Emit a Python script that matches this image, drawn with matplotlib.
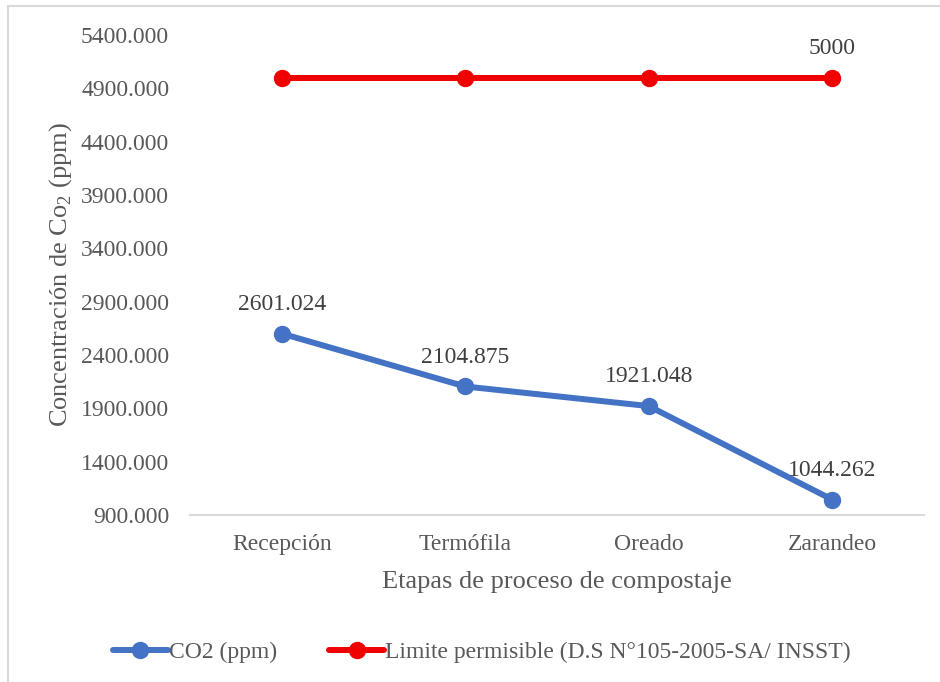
import matplotlib
matplotlib.use("Agg")
import matplotlib.pyplot as plt
from matplotlib.patches import Rectangle

# Datos
etapas = ["Recepción", "Termófila", "Oreado", "Zarandeo"]
co2_ppm = [2601.024, 2104.875, 1921.048, 1044.262]
limite = [5000, 5000, 5000, 5000]
yticks = [900, 1400, 1900, 2400, 2900, 3400, 3900, 4400, 4900, 5400]

azul = "#4472C4"
rojo = "#F00000"
gris_texto = "#595959"

plt.rcParams["font.family"] = ["Liberation Serif", "DejaVu Serif"]
plt.rcParams["mathtext.fontset"] = "custom"
plt.rcParams["mathtext.rm"] = "Liberation Serif"


def run_plot():

    fig = plt.figure(figsize=(9.4, 6.82), dpi=100)
    ax = fig.add_axes([190 / 940, 1 - 515 / 682, 734 / 940, 480 / 682])

    x = range(len(etapas))

    ax.plot(x, co2_ppm, color=azul, lw=4.3, marker="o", ms=11.5,
            label="CO2 (ppm)", solid_capstyle="round")
    ax.plot(x, limite, color=rojo, lw=4.3, marker="o", ms=11.5,
            label="Limite permisible (D.S N°105-2005-SA/ INSST)",
            solid_capstyle="round")

    # Etiquetas de datos
    for i, v in enumerate(co2_ppm):
        ax.annotate(f"{v:.3f}", (i, v), xytext=(0, 17),
                    textcoords="offset points", ha="center",
                    va="baseline", fontsize=17, color="#404040")

    ax.annotate(f"{limite[-1]}", (len(limite) - 1, limite[-1]),
                xytext=(0, 17), textcoords="offset points", ha="center",
                va="baseline", fontsize=17, color="#404040")

    ax.set_xlim(-0.5, len(etapas) - 0.5)
    ax.set_ylim(900, 5400)
    ax.set_xticks(list(x))
    ax.set_xticklabels(etapas)
    ax.set_yticks(yticks)
    ax.set_yticklabels([f"{t:.3f}" for t in yticks])

    ax.tick_params(axis="both", length=0, labelsize=17, colors=gris_texto)
    ax.tick_params(axis="y", pad=15)
    ax.tick_params(axis="x", pad=14)

    for lado in ["top", "right", "left"]:
        ax.spines[lado].set_visible(False)
    ax.spines["bottom"].set_color("#D9D9D9")
    ax.spines["bottom"].set_linewidth(1.5)

    ax.set_xlabel("Etapas de proceso de compostaje", fontsize=19,
                  color=gris_texto)
    ax.set_ylabel(r"Concentración de Co$_\mathregular{2}$ (ppm)",
                  fontsize=19, color=gris_texto)
    ax.xaxis.set_label_coords(0.5, -0.117)
    ax.yaxis.set_label_coords(-0.158, 0.5)

    fig.legend(loc="center", bbox_to_anchor=(482 / 940, 1 - 652 / 682),
               ncol=2, frameon=False, fontsize=17, handlelength=2.33,
               handletextpad=0.05, columnspacing=2.2, labelcolor=gris_texto)

    # Borde del grafico
    borde = Rectangle((8 / 940, -0.1), 1.2, 1.1 - 6 / 682,
                      transform=fig.transFigure, fill=False,
                      edgecolor="#D9D9D9", lw=1.5)
    fig.patches.append(borde)

    fig.savefig("out.png", dpi=100)


if __name__ == "__main__":
    run_plot()
